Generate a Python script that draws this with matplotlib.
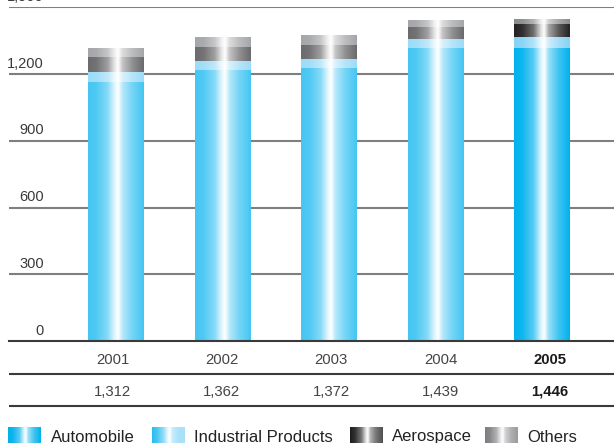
import numpy as np
import matplotlib
matplotlib.use('Agg')
import matplotlib.pyplot as plt
from matplotlib.colors import to_rgb

# Net sales by business segment
years = ['2001', '2002', '2003', '2004', '2005']
automobile = [1164, 1218, 1227, 1317, 1318]
industrial = [45, 40, 39, 40, 47]
aerospace = [67, 63, 64, 54, 60]
others = [36, 41, 42, 28, 21]
totals = [a + b + c + d for a, b, c, d in zip(automobile, industrial, aerospace, others)]
yticks = [0, 300, 600, 900, 1200, 1500]
series_names = ['Automobile', 'Industrial Products', 'Aerospace', 'Others']
highlight_year = '2005'

plt.rcParams['font.family'] = ['Liberation Sans', 'DejaVu Sans']

# edge colours per series: (regular years, highlighted year)
edge_colors = {
    'Automobile': ('#45c6f3', '#00b2ee'),
    'Industrial Products': ('#9cdcf7', '#86d3f5'),
    'Aerospace': ('#6b6b6e', '#242222'),
    'Others': ('#a5a6a9', '#8a8b8e'),
}
legend_edges = {
    'Automobile': ('#00b0ec', '#00b0ec'),
    'Industrial Products': ('#29bcef', '#a9e1f8'),
    'Aerospace': ('#1e1c1c', '#505052'),
    'Others': ('#7c7d80', '#9a9b9e'),
}

W, H = 614, 443
fig = plt.figure(figsize=(W / 100, H / 100), dpi=100)

# horizontal white highlight profile across a bar
prof_pos = [0.0, 0.15, 0.35, 0.48, 0.54, 0.62, 0.8, 1.0]
prof_w = [0.0, 0.06, 0.35, 0.85, 1.0, 0.6, 0.25, 0.0]


def gradient(left, right, n=96):
    t = np.linspace(0, 1, n)
    w = np.interp(t, prof_pos, prof_w)
    l = np.array(to_rgb(left))
    r = np.array(to_rgb(right))
    base = l[None, :] * (1 - t[:, None]) + r[None, :] * t[:, None]
    img = base * (1 - w[:, None]) + w[:, None]
    return img[None, :, :]


ax = fig.add_axes([9 / W, (H - 341) / H, 605 / W, (341 - 7.25) / H])
ax.set_xlim(-0.999, 4.676)
ax.set_ylim(0, 1500)
ax.axis('off')

# gridlines
for v in yticks[1:]:
    ax.axhline(v, color='#7f7f7f', lw=1.5, zorder=0)
ax.axhline(0, color='#3a3a3a', lw=1.5, zorder=3, clip_on=False)

# tick labels sit above their gridlines
for v in yticks:
    ax.annotate(f'{v:,}', xy=(35 / 605, v), xycoords=('axes fraction', 'data'),
                xytext=(0, 2.5), textcoords='offset points', ha='right', va='bottom',
                fontsize=10.5, color='#3a3a3a', annotation_clip=False)

x = np.arange(len(years))
bottom = np.zeros(len(years))
series = [automobile, industrial, aerospace, others]
for name, vals in zip(series_names, series):
    bars = ax.bar(x, vals, bottom=bottom, width=0.516, color='none', linewidth=0)
    for yr, p in zip(years, bars.patches):
        c = edge_colors[name][1 if yr == highlight_year else 0]
        x0, y0 = p.get_x(), p.get_y()
        ax.imshow(gradient(c, c), extent=(x0, x0 + p.get_width(), y0, y0 + p.get_height()),
                  aspect='auto', interpolation='bilinear', zorder=2)
    bottom += np.array(vals)

ax.set_xlim(-0.999, 4.676)
ax.set_ylim(0, 1500)

# overlay in pixel coordinates for the table and legend
ov = fig.add_axes([0, 0, 1, 1])
ov.set_xlim(0, W)
ov.set_ylim(H, 0)
ov.axis('off')
ov.patch.set_alpha(0)

for yy in (374, 405.5):
    ov.plot([9, W], [yy, yy], color='#3a3a3a', lw=1.5, solid_capstyle='butt')

# table columns
col_x = 112.5 + 109.3 * np.arange(len(years))
for cx, yr, tot in zip(col_x, years, totals):
    bold = yr == highlight_year
    kw = dict(ha='center', va='baseline', fontsize=10.7,
              color='#1a1a1a' if bold else '#444444',
              fontweight='bold' if bold else 'normal')
    ov.text(cx, 364.3, yr, **kw)
    ov.text(cx, 396, f'{tot:,}', **kw)

# legend
sw_x = [8.3, 152.3, 350, 485]
txt_x = [50.5, 194, 391.5, 527.5]
for name, sx, tx in zip(series_names, sw_x, txt_x):
    l, r = legend_edges[name]
    ov.imshow(gradient(l, r), extent=(sx, sx + 32.5, 443, 427), aspect='auto',
              interpolation='bilinear')
    ov.text(tx, 441.5, name, ha='left', va='baseline', fontsize=12, color='#222222')

ov.set_xlim(0, W)
ov.set_ylim(H, 0)

fig.savefig('out.png', dpi=100)
